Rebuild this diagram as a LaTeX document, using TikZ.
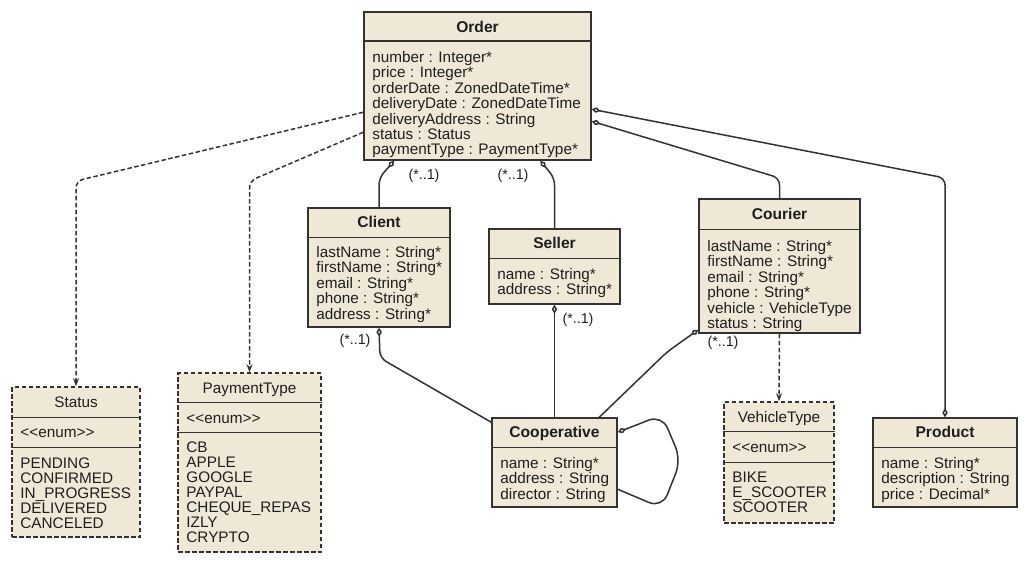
\documentclass[tikz,border=0pt]{standalone}
\usepackage{fontspec}
\setmainfont{Liberation Sans}
\usetikzlibrary{arrows.meta,calc}
\definecolor{boxfill}{RGB}{239,232,214}
\definecolor{ink}{RGB}{52,50,48}
\definecolor{txt}{RGB}{30,30,30}
\newcommand\attrlist[1]{\begin{tabular}[t]{@{}l@{}}#1\end{tabular}}
\newcommand\divline[2]{\draw[divstyle] ($(#1.north west)+(0,#2)$) -- ($(#1.north east)+(0,#2)$);}
\begin{document}
\begin{tikzpicture}[x=1pt,y=-1pt,
  cls/.style={draw=ink, fill=boxfill, line width=1.5pt, rectangle, inner sep=0pt},
  enumcls/.style={cls, dash pattern=on 4.5pt off 2.5pt},
  divstyle/.style={draw=ink, line width=1.5pt},
  titlestyle/.style={inner sep=0pt, text=txt, font=\fontsize{15.6}{14.8}\selectfont\bfseries, anchor=base},
  enumtitle/.style={inner sep=0pt, text=txt, font=\fontsize{15.3}{14.8}\selectfont, anchor=base},
  attrstyle/.style={inner sep=0pt, text=txt, font=\fontsize{15.3}{14.8}\selectfont, anchor=base west},
  lbl/.style={inner sep=0pt, text=txt, font=\fontsize{14.3}{14}\selectfont},
  conn/.style={draw=ink, line width=1.5pt, rounded corners=7pt},
  dep/.style={conn, dash pattern=on 4.5pt off 2.5pt, -{Stealth[length=8pt,width=6pt]}},
  agg/.style={conn, {Diamond[fill=white,length=9pt,width=5.5pt]}-},
]
\useasboundingbox (0,0) rectangle (1030,564);

% ---------- Order ----------
\node[cls, minimum width=227pt, minimum height=148pt] (order) at (477.5,86) {};
\divline{order}{30}
\node[titlestyle] (order-t) at ($(order.north)+(0,21)$) {Order};
\node[attrstyle] (order-a) at ($(order.north west)+(9,51)$) {\attrlist{
number : Integer*\\ price : Integer*\\ orderDate : ZonedDateTime*\\ deliveryDate : ZonedDateTime\\
deliveryAddress : String\\ status : Status\\ paymentType : PaymentType*}};

% ---------- Client ----------
\node[cls, minimum width=142pt, minimum height=119pt] (client) at (379,267.5) {};
\divline{client}{30}
\node[titlestyle] (client-t) at ($(client.north)+(0,20)$) {Client};
\node[attrstyle] (client-a) at ($(client.north west)+(9,50)$) {\attrlist{
lastName : String*\\ firstName : String*\\ email : String*\\ phone : String*\\ address : String*}};

% ---------- Seller ----------
\node[cls, minimum width=131pt, minimum height=75pt] (seller) at (554.5,266.5) {};
\divline{seller}{30}
\node[titlestyle] (seller-t) at ($(seller.north)+(0,20.5)$) {Seller};
\node[attrstyle] (seller-a) at ($(seller.north west)+(9,51)$) {\attrlist{
name : String*\\ address : String*}};

% ---------- Courier ----------
\node[cls, minimum width=161pt, minimum height=134pt] (courier) at (779.5,266) {};
\divline{courier}{31}
\node[titlestyle] (courier-t) at ($(courier.north)+(0,21)$) {Courier};
\node[attrstyle] (courier-a) at ($(courier.north west)+(9,53)$) {\attrlist{
lastName : String*\\ firstName : String*\\ email : String*\\ phone : String*\\
vehicle : VehicleType\\ status : String}};

% ---------- Product ----------
\node[cls, minimum width=144pt, minimum height=89pt] (product) at (945,462.5) {};
\divline{product}{30}
\node[titlestyle] (product-t) at ($(product.north)+(0,20)$) {Product};
\node[attrstyle] (product-a) at ($(product.north west)+(9,51)$) {\attrlist{
name : String*\\ description : String\\ price : Decimal*}};

% ---------- Cooperative ----------
\node[cls, minimum width=125pt, minimum height=89pt] (coop) at (554.5,462.5) {};
\divline{coop}{30}
\node[titlestyle] (coop-t) at ($(coop.north)+(0,20)$) {Cooperative};
\node[attrstyle] (coop-a) at ($(coop.north west)+(9,51)$) {\attrlist{
name : String*\\ address : String\\ director : String}};

% ---------- Status ----------
\node[enumcls, minimum width=128pt, minimum height=150pt] (status) at (76,462) {};
\divline{status}{31}
\divline{status}{61}
\node[enumtitle] (status-t) at ($(status.north)+(0,21)$) {Status};
\node[attrstyle] (status-s) at ($(status.north west)+(9,51)$) {<{}<enum>{}>};
\node[attrstyle] (status-a) at ($(status.north west)+(9,82)$) {\attrlist{
PENDING\\ CONFIRMED\\ IN\_PROGRESS\\ DELIVERED\\ CANCELED}};

% ---------- PaymentType ----------
\node[enumcls, minimum width=143pt, minimum height=179pt] (payment) at (249.5,462.5) {};
\divline{payment}{30}
\divline{payment}{60}
\node[enumtitle] (payment-t) at ($(payment.north)+(0,21)$) {PaymentType};
\node[attrstyle] (payment-s) at ($(payment.north west)+(9,51)$) {<{}<enum>{}>};
\node[attrstyle] (payment-a) at ($(payment.north west)+(9,80)$) {\attrlist{
CB\\ APPLE\\ GOOGLE\\ PAYPAL\\ CHEQUE\_REPAS\\ IZLY\\ CRYPTO}};

% ---------- VehicleType ----------
\node[enumcls, minimum width=110pt, minimum height=121pt] (vehicle) at (779,462.5) {};
\divline{vehicle}{30}
\divline{vehicle}{61}
\node[enumtitle] (vehicle-t) at ($(vehicle.north)+(0,21)$) {VehicleType};
\node[attrstyle] (vehicle-s) at ($(vehicle.north west)+(9,51)$) {<{}<enum>{}>};
\node[attrstyle] (vehicle-a) at ($(vehicle.north west)+(9,81)$) {\attrlist{
BIKE\\ E\_SCOOTER\\ SCOOTER}};

% ---------- connectors ----------
\draw[dep] ($(order.north west)+(0,101)$) -- (76,181) -- (status.north);
\draw[dep] ($(order.north west)+(0,121)$) -- (249.5,181) -- (payment.north);
\draw[dep] (courier.south) -- (vehicle.north);

\draw[agg] ($(order.south west)+(31,0)$) -- (379,178) -- (client.north);
\draw[agg] ($(order.south west)+(177,0)$) -- (554.5,178) -- (seller.north);
\draw[agg] ($(order.north east)+(0,110)$) -- (779.5,178) -- (courier.north);
\draw[agg, {Diamond[fill=white,length=9pt,width=5.5pt]}-{Diamond[fill=white,length=9pt,width=5.5pt]}]
  ($(order.north east)+(0,98)$) -- (945,178) -- (product.north);

\draw[agg] (client.south) -- (380,358) -- ($(coop.north west)+(0,5)$);
\draw[agg] (seller.south) -- (coop.north);
\draw[agg] ($(courier.south west)+(0,-4)$) -- (667,352) -- ($(coop.north west)+(108,0)$);
\draw[agg, rounded corners=14pt] ($(coop.north east)+(0,15)$) -- (662,415) -- (681,460) -- (662,508) -- ($(coop.north east)+(0,72)$);

% ---------- multiplicities ----------
\node[lbl] (m1) at (424,176) {(*..1)};
\node[lbl] (m2) at (513,176) {(*..1)};
\node[lbl] (m3) at (355,341) {(*..1)};
\node[lbl] (m4) at (578,320) {(*..1)};
\node[lbl] (m5) at (723,343) {(*..1)};
\end{tikzpicture}
\end{document}
